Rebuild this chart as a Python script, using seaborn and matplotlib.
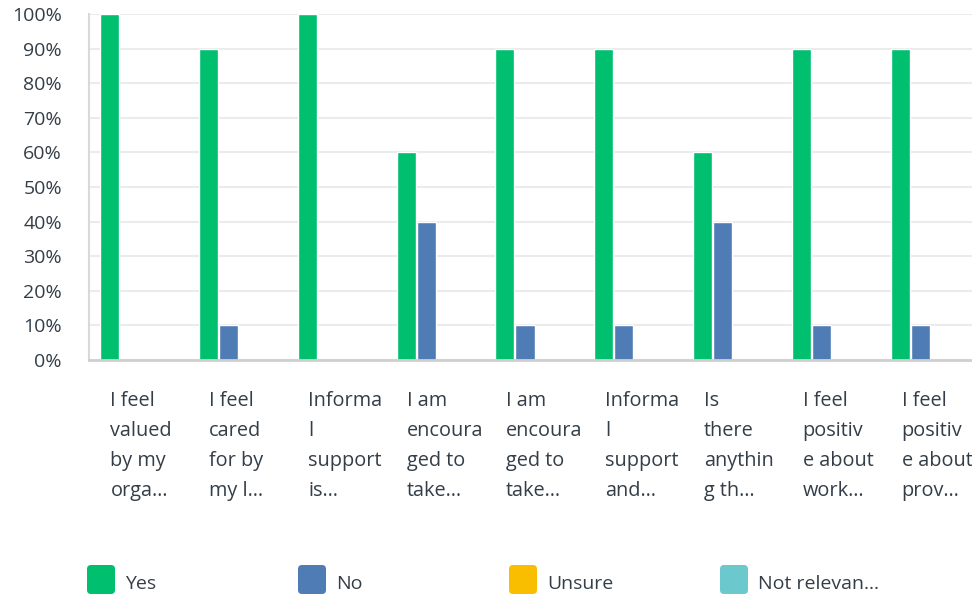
import numpy as np
import pandas as pd
import matplotlib
matplotlib.use("Agg")
import matplotlib.pyplot as plt
from matplotlib.patches import FancyBboxPatch
from matplotlib.transforms import ScaledTranslation, IdentityTransform
import seaborn as sns

# Question labels as shown on the axis (wrapped and truncated)
questions = [
    "I feel\nvalued\nby my\norga…",
    "I feel\ncared\nfor by\nmy l…",
    "Informa\nl\nsupport\nis…",
    "I am\nencoura\nged to\ntake…",
    "I am\nencoura\nged to\ntake…",
    "Informa\nl\nsupport\nand…",
    "Is\nthere\nanythin\ng th…",
    "I feel\npositiv\ne about\nwork…",
    "I feel\npositiv\ne about\nprov…",
]
responses = ["Yes", "No", "Unsure", "Not relevan…"]

yes_pct = [100, 90, 100, 60, 90, 90, 60, 90, 90]
no_pct = [0, 10, 0, 40, 10, 10, 40, 10, 10]
unsure_pct = [0, 0, 0, 0, 0, 0, 0, 0, 0]
not_relevant_pct = [0, 0, 0, 0, 0, 0, 0, 0, 0]

colors = ["#00BF6F", "#507CB6", "#F9BE00", "#6BC8CD"]
text_color = "#333E48"

series = [yes_pct, no_pct, unsure_pct, not_relevant_pct]
rows = []
for resp, vals in zip(responses, series):
    for qi, v in enumerate(vals):
        rows.append({"q": qi, "resp": resp, "pct": v})
df = pd.DataFrame(rows)

sns.set_theme(style="white")
plt.rcParams["font.family"] = ["Open Sans", "DejaVu Sans"]
plt.rcParams["text.color"] = text_color

W, H, DPI = 972, 596, 100
fig = plt.figure(figsize=(W / DPI, H / DPI), dpi=DPI)
ax = fig.add_axes([89 / W, 1 - 360 / H, (982 - 89) / W, (360 - 14) / H])

sns.barplot(data=df, x="q", y="pct", hue="resp", hue_order=responses,
            palette=colors, saturation=1, width=0.81, gap=0.05,
            legend=False, ax=ax, errorbar=None)

ax.set_xlim(-0.51, 8.52)
ax.set_ylim(0, 100)
ax.set_xlabel("")
ax.set_ylabel("")

ax.set_yticks(np.arange(0, 101, 10))
ax.set_yticklabels([f"{v}%" for v in range(0, 101, 10)])
ax.tick_params(axis="y", length=0, pad=19.5, labelsize=14, labelcolor=text_color)

ax.set_xticks(range(len(questions)))
ax.set_xticklabels(questions, ha="left", va="top", linespacing=1.68)
ax.tick_params(axis="x", length=0, pad=22, labelsize=14.3, labelcolor=text_color)
shift = ScaledTranslation(-29 / DPI, 0, fig.dpi_scale_trans)
for lab in ax.get_xticklabels():
    lab.set_transform(lab.get_transform() + shift)

ax.yaxis.grid(True, color="#EBEBEB", linewidth=1.5)
ax.xaxis.grid(False)
ax.set_axisbelow(True)
for side in ("top", "right"):
    ax.spines[side].set_visible(False)
ax.spines["left"].set_color("#D9D9D9")
ax.spines["left"].set_linewidth(1.5)
ax.spines["bottom"].set_color("#CFCFCF")
ax.spines["bottom"].set_linewidth(2)

# Legend row with rounded colour swatches
for i, (resp, col) in enumerate(zip(responses, colors)):
    x0 = 87 + i * 211
    patch = FancyBboxPatch((x0 + 3, H - 594 + 3), 22, 23,
                           boxstyle="round,pad=3,rounding_size=4",
                           facecolor=col, edgecolor="none",
                           transform=IdentityTransform())
    fig.add_artist(patch)
    fig.text((x0 + 38) / W, 1 - 589 / H, resp, fontsize=14,
             color=text_color, ha="left", va="baseline")

fig.savefig("out.png", dpi=DPI)
